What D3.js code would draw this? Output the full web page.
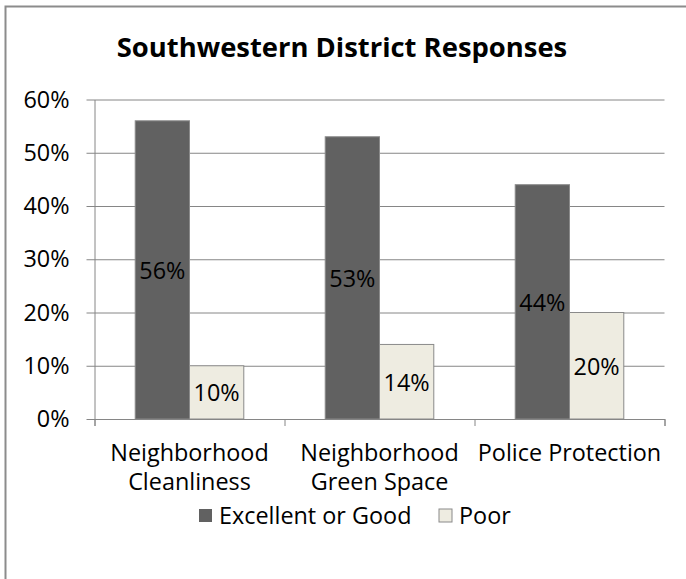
<!DOCTYPE html>
<html>
<head>
<meta charset="utf-8">
<script src="https://cdn.jsdelivr.net/npm/d3@7"></script>
<style>
  body { margin: 0; background: #fff; }
  svg text { font-family: "Open Sans", sans-serif; fill: #000; }
</style>
</head>
<body>
<svg class="chart" width="686" height="579"></svg>
<script>
// chart data
var categories = [["Neighborhood", "Cleanliness"], ["Neighborhood", "Green Space"], ["Police Protection"]];
var seriesNames = ["Excellent or Good", "Poor"];
var excellentGood = [0.56, 0.53, 0.44];
var poor = [0.10, 0.14, 0.20];
var yTicks = [0, 0.1, 0.2, 0.3, 0.4, 0.5, 0.6];

var colors = ["#616161", "#eeece1"];
var fontSize = 23.4;
var svg = d3.select("svg.chart");

// outer chart border (only left + top visible in the frame)
svg.append("rect")
  .attr("x", 5.5).attr("y", 6.5)
  .attr("width", 700).attr("height", 600)
  .attr("fill", "none").attr("stroke", "#8c8c8c").attr("stroke-width", 2);

var margin = {top: 99.5, left: 94.5, right: 664.5, bottom: 419};

var x = d3.scaleBand()
  .domain(d3.range(categories.length))
  .range([margin.left, margin.right]);
var y = d3.scaleLinear()
  .domain([0, 0.6])
  .range([margin.bottom, margin.top]);

// gridlines + y axis
var yAxis = d3.axisLeft(y)
  .tickValues(yTicks)
  .tickFormat(d3.format(".0%"))
  .tickSize(-(margin.right - margin.left))
  .tickSizeOuter(0);
var gy = svg.append("g")
  .attr("transform", "translate(" + margin.left + ",0)")
  .call(yAxis);
gy.select(".domain").attr("stroke", "#868686");
gy.selectAll(".tick line").attr("stroke", "#868686").attr("x1", -8);
gy.selectAll(".tick text")
  .attr("x", -25)
  .attr("font-size", fontSize)
  .attr("font-family", "'Open Sans', sans-serif");

// bars
var inner = d3.scaleBand()
  .domain([0, 1])
  .range([0, x.bandwidth()])
  .paddingOuter(0.75)
  .paddingInner(0);

var rows = categories.map(function(c, i) {
  return [excellentGood[i], poor[i]];
});

var groups = svg.append("g").selectAll("g")
  .data(rows)
  .join("g")
  .attr("transform", function(d, i) { return "translate(" + x(i) + ",0)"; });

groups.selectAll("rect")
  .data(function(d) { return d; })
  .join("rect")
  .attr("x", function(d, j) { return inner(j); })
  .attr("y", function(d) { return y(d); })
  .attr("width", inner.bandwidth())
  .attr("height", function(d) { return y(0) - y(d); })
  .attr("fill", function(d, j) { return colors[j]; })
  .attr("stroke", "#8a8a8a")
  .attr("stroke-width", 1);

groups.selectAll("text.lbl")
  .data(function(d) { return d; })
  .join("text")
  .attr("class", "lbl")
  .attr("x", function(d, j) { return inner(j) + inner.bandwidth() / 2; })
  .attr("y", function(d) { return (y(d) + y(0)) / 2; })
  .attr("text-anchor", "middle")
  .attr("dominant-baseline", "central")
  .attr("font-size", fontSize)
  .text(function(d) { return Math.round(d * 100) + "%"; });

// x axis
var xAxis = d3.axisBottom(d3.scaleLinear().domain([0, 3]).range([margin.left, margin.right]))
  .tickValues([0, 1, 2, 3])
  .tickSize(7)
  .tickFormat("");
var gx = svg.append("g")
  .attr("transform", "translate(0," + margin.bottom + ")")
  .call(xAxis);
gx.selectAll("path, line").attr("stroke", "#868686");

var cat = svg.append("g").selectAll("text")
  .data(categories)
  .join("text")
  .attr("text-anchor", "middle")
  .attr("font-size", fontSize)
  .attr("x", function(d, i) { return x(i) + x.bandwidth() / 2; })
  .attr("y", 461);
cat.selectAll("tspan")
  .data(function(d) { return d; })
  .join("tspan")
  .attr("x", function() { return d3.select(this.parentNode).attr("x"); })
  .attr("dy", function(d, k) { return k ? 29 : 0; })
  .text(function(d) { return d; });

// title
svg.append("text")
  .attr("x", 342).attr("y", 57)
  .attr("text-anchor", "middle")
  .attr("font-size", 27.4)
  .attr("font-weight", "bold")
  .text("Southwestern District Responses");

// legend
var legX = [199, 439];
var leg = svg.append("g").selectAll("g")
  .data(seriesNames)
  .join("g")
  .attr("transform", function(d, i) { return "translate(" + legX[i] + ",515)"; });
leg.append("rect")
  .attr("x", 0).attr("y", -6)
  .attr("width", 13).attr("height", 13)
  .attr("fill", function(d, i) { return colors[i]; })
  .attr("stroke", function(d, i) { return i ? "#8a8a8a" : "none"; });
leg.append("text")
  .attr("x", 20)
  .attr("dominant-baseline", "central")
  .attr("font-size", fontSize)
  .text(function(d) { return d; });
</script>
</body>
</html>
